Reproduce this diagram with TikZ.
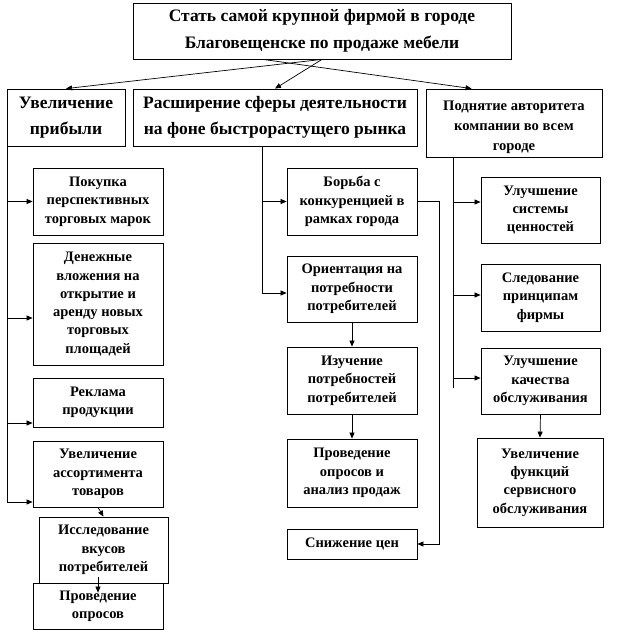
\documentclass[tikz,border=0pt]{standalone}
\usepackage{fontspec}
\setmainfont{Liberation Serif}
\usetikzlibrary{arrows.meta,calc}
\tikzset{
  box/.style={draw, line width=0.8pt, align=center, inner sep=0pt,
    font=\bfseries\fontsize{14.5}{18.3}\selectfont},
  big/.style={font=\bfseries\fontsize{17.5}{26.5}\selectfont},
  midf/.style={font=\bfseries\fontsize{14.6}{20}\selectfont},
  arr/.style={-{Triangle[length=6pt,width=5pt]}, line width=0.7pt},
  ln/.style={line width=0.7pt}
}
\begin{document}
\begin{tikzpicture}[x=1pt,y=-1pt]
\useasboundingbox (0,0) rectangle (618,633);
% level 0
\node[box,big,minimum width=378pt,minimum height=56pt] (top) at (322,31)
  {Стать самой крупной фирмой в городе\\Благовещенске по продаже мебели};
% level 1
\node[box,big,minimum width=118pt,minimum height=57pt] (b1) at (66,117.5)
  {Увеличение\\прибыли};
\node[box,big,minimum width=284pt,minimum height=57pt] (b2) at (275,117.5)
  {Расширение сферы деятельности\\на фоне быстрорастущего рынка};
\node[box,minimum width=176pt,minimum height=68pt] (b3) at (514,123) {};
\node[midf,align=center,inner sep=0pt] (b3t) at (514,127.5)
  {Поднятие авторитета\\компании во всем\\городе};
% left column
\node[box,minimum width=130pt,minimum height=67pt] (l1) at (98,201.5)
  {Покупка\\перспективных\\торговых марок};
\node[box,minimum width=130pt,minimum height=122pt] (l2) at (98,304)
  {Денежные\\вложения на\\открытие и\\аренду новых\\торговых\\площадей};
\node[box,minimum width=130pt,minimum height=49pt] (l3) at (98,402.5)
  {Реклама\\продукции};
\node[box,minimum width=130pt,minimum height=66pt] (l4) at (98,474)
  {Увеличение\\ассортимента\\товаров};
\node[box,minimum width=129pt,minimum height=66pt] (l5) at (103.5,550)
  {Исследование\\вкусов\\потребителей};
\node[box,minimum width=130pt,minimum height=46pt] (l6) at (98,606)
  {Проведение\\опросов};
% middle column
\node[box,minimum width=130pt,minimum height=67pt] (m1) at (352,201.5)
  {Борьба с\\конкуренцией в\\рамках города};
\node[box,minimum width=130pt,minimum height=66pt] (m2) at (352,289)
  {Ориентация на\\потребности\\потребителей};
\node[box,minimum width=130pt,minimum height=67pt] (m3) at (352,380.5)
  {Изучение\\потребностей\\потребителей};
\node[box,minimum width=130pt,minimum height=68pt] (m4) at (352,473)
  {Проведение\\опросов и\\анализ продаж};
\node[box,minimum width=130pt,minimum height=30pt] (m5) at (352,544)
  {Снижение цен};
% right column
\node[box,minimum width=119pt,minimum height=66pt] (r1) at (540.5,210)
  {Улучшение\\системы\\ценностей};
\node[box,minimum width=119pt,minimum height=67pt] (r2) at (540.5,297.5)
  {Следование\\принципам\\фирмы};
\node[box,minimum width=119pt,minimum height=66pt] (r3) at (540.5,381)
  {Улучшение\\качества\\обслуживания};
\node[box,minimum width=126pt,minimum height=89pt] (r4) at (540,482.5)
  {Увеличение\\функций\\сервисного\\обслуживания};
% top connectors
\coordinate (ts1) at ($(top.south west)!0.344!(top.south east)$);
\coordinate (b3in) at ($(b3.north west)!0.26!(b3.north east)$);
\draw[arr] (top.south) -- (b1.north);
\draw[arr] (top.south) -- (b2.north);
\draw[arr] (ts1) -- (b3in);
% left trunk
\coordinate (lt) at ($(b1.south west)+(1,0)$);
\draw[ln] (lt) -- ($(lt)+(0,356)$);
\draw[arr] (lt) |- (l1.west);
\draw[arr] (lt) |- ($(l2.west)+(0,14)$);
\draw[arr] (lt) |- ($(l3.west)+(0,20.5)$);
\draw[arr] (lt) |- ($(l4.west)+(0,28)$);
\draw[arr] (l4.south) -- (l5.north);
\draw[arr] ($(l5.south)+(-5.5,-6)$) -- ($(l6.north)+(0,10)$);
% middle trunk
\coordinate (mt) at ($(b2.south)+(-13,0)$);
\draw[arr] (mt) |- (m1.west);
\draw[arr] (mt) |- ($(m2.west)+(0,4)$);
\draw[arr] (m2.south) -- (m3.north);
\draw[arr] (m3.south) -- (m4.north);
\draw[arr] (m1.east) -- ++(22,0) |- (m5.east);
% right trunk
\coordinate (rt) at ($(b3.south west)+(28,0)$);
\draw[ln] (rt) -- ($(rt)+(0,231)$);
\draw[arr] (rt) |- ($(r1.west)+(0,-8)$);
\draw[arr] (rt) |- ($(r2.west)+(0,-2.5)$);
\draw[arr] (rt) |- ($(r3.west)+(0,-3)$);
\draw[arr] (r3.south) -- (r4.north);
\end{tikzpicture}
\end{document}
